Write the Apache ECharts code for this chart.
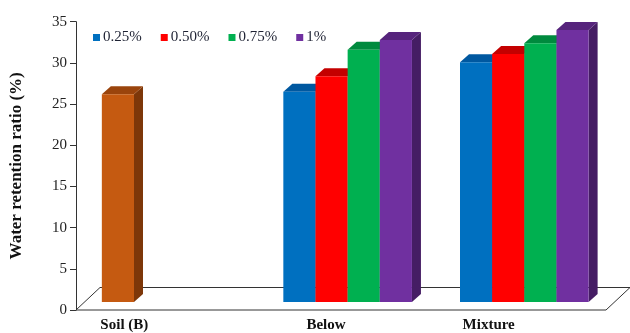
<!DOCTYPE html>
<html>
<head>
<meta charset="utf-8">
<script src="https://cdn.jsdelivr.net/npm/echarts@6/dist/echarts.min.js"></script>
<style>
  html, body { margin: 0; padding: 0; background: #fff; }
  #chart { width: 630px; height: 333px; }
</style>
</head>
<body>
<div id="chart"></div>
<script>
// categories + values
const categories = ['Soil (B)', 'Below', 'Mixture']
const soilB = [25.2, null, null]
const dose025 = [null, 25.5, 29.1]
const dose050 = [null, 27.4, 30.1]
const dose075 = [null, 30.6, 31.4]
const dose100 = [null, 31.8, 33.0]
const yTicks = [0, 5, 10, 15, 20, 25, 30, 35]

// 3d look
const FLOOR_DX = 24
const FLOOR_DY = 22.5
const BAR_Z = 0.36 // bar front sits this far back on the floor
const DEPTH_DX = 9
const DEPTH_DY = 8
const BAR_FRAC = 0.182 // bar width / band width
const SOIL_SHIFT = -1.65 // soil bar is not centred in its band
const NUDGE_X = -2

const FONT = '"Liberation Serif", "Times New Roman", serif'

/**
 * 画一根立体柱子（正面 + 侧面 + 顶面）
 */
function makeBar(slot, colors) {
  return function (params, api) {
    const v = api.value(1)
    if (v == null || isNaN(v)) return
    const cat = api.value(0)
    const band = api.size([1, 0])[0]
    const w = band * BAR_FRAC
    const base = api.coord([cat, 0])
    const top = api.coord([cat, v])
    let left
    if (slot < 0) {
      left = base[0] + SOIL_SHIFT * w - w / 2
    } else {
      left = base[0] - 2 * w + slot * w
    }
    const x0 = left + FLOOR_DX * BAR_Z + NUDGE_X
    const yb = base[1] - FLOOR_DY * BAR_Z
    const yt = top[1] - FLOOR_DY * BAR_Z
    return {
      type: 'group',
      children: [
        {
          type: 'polygon',
          shape: { points: [[x0 + w, yb], [x0 + w + DEPTH_DX, yb - DEPTH_DY], [x0 + w + DEPTH_DX, yt - DEPTH_DY], [x0 + w, yt]] },
          style: { fill: colors[2] },
        },
        {
          type: 'polygon',
          shape: { points: [[x0, yt], [x0 + DEPTH_DX, yt - DEPTH_DY], [x0 + w + DEPTH_DX, yt - DEPTH_DY], [x0 + w, yt]] },
          style: { fill: colors[1] },
        },
        {
          type: 'rect',
          shape: { x: x0, y: yt, width: w, height: yb - yt },
          style: { fill: colors[0] },
        },
      ],
    }
  }
}

function barSeries(name, data, slot, colors) {
  return {
    name: name,
    type: 'custom',
    data: data.map((v, i) => [i, v]),
    itemStyle: { color: colors[0] },
    renderItem: makeBar(slot, colors),
    silent: true,
  }
}

const chart = echarts.init(document.getElementById('chart'))

const labelStyle = { fontFamily: FONT, fontWeight: 'bold', fontSize: 15, color: '#111' }

const option = {
  animation: false,
  grid: { left: 69, right: 24, top: 21.7, bottom: 21.3 },
  legend: {
    data: ['0.25%', '0.50%', '0.75%', '1%'],
    left: 88,
    top: 25,
    icon: 'rect',
    itemWidth: 7,
    itemHeight: 7,
    itemGap: 19,
    textStyle: { fontFamily: FONT, fontSize: 15, color: '#1e2233', padding: [0, 0, 0, -2] },
  },
  xAxis: {
    type: 'category',
    data: categories,
    axisLine: { show: false },
    axisTick: { show: false },
    axisLabel: {
      margin: 8,
      formatter: (v, i) => `{c${i}|${v}}`,
      rich: {
        c0: Object.assign({ padding: [0, 80, 0, 0] }, labelStyle),
        c1: Object.assign({ padding: [0, 30, 0, 0] }, labelStyle),
        c2: Object.assign({ padding: [0, 58, 0, 0] }, labelStyle),
      },
    },
  },
  yAxis: {
    type: 'value',
    min: yTicks[0],
    max: yTicks[yTicks.length - 1],
    interval: 5,
    name: 'Water retention ratio (%)',
    nameLocation: 'middle',
    nameRotate: 90,
    nameGap: 51,
    nameTextStyle: { fontFamily: FONT, fontWeight: 'bold', fontSize: 17, color: '#111' },
    axisLine: { show: true, lineStyle: { color: '#333', width: 1 } },
    axisTick: { show: true, inside: false, length: 6, lineStyle: { color: '#333' } },
    axisLabel: { fontFamily: FONT, fontSize: 15, color: '#222', margin: 9 },
    splitLine: { show: false },
  },
  series: [
    {
      name: 'floor',
      type: 'custom',
      data: [[0, 0]],
      silent: true,
      z: 1,
      renderItem: function (params, api) {
        const cs = params.coordSys
        const yb = cs.y + cs.height
        return {
          type: 'polygon',
          shape: {
            points: [[cs.x, yb], [cs.x + cs.width, yb], [cs.x + cs.width + FLOOR_DX, yb - FLOOR_DY], [cs.x + FLOOR_DX, yb - FLOOR_DY]],
          },
          style: { fill: '#fff', stroke: '#333', lineWidth: 1 },
        }
      },
    },
    barSeries('Soil (B)', soilB, -1, ['#C55A11', '#9a440c', '#7d3709']),
    barSeries('0.25%', dose025, 0, ['#0070C0', '#0058a0', '#004a86']),
    barSeries('0.50%', dose050, 1, ['#FF0000', '#c40000', '#a80000']),
    barSeries('0.75%', dose075, 2, ['#00B050', '#008a3e', '#007434']),
    barSeries('1%', dose100, 3, ['#7030A0', '#56247c', '#451d64']),
  ],
}

option && chart.setOption(option)
</script>
</body>
</html>
